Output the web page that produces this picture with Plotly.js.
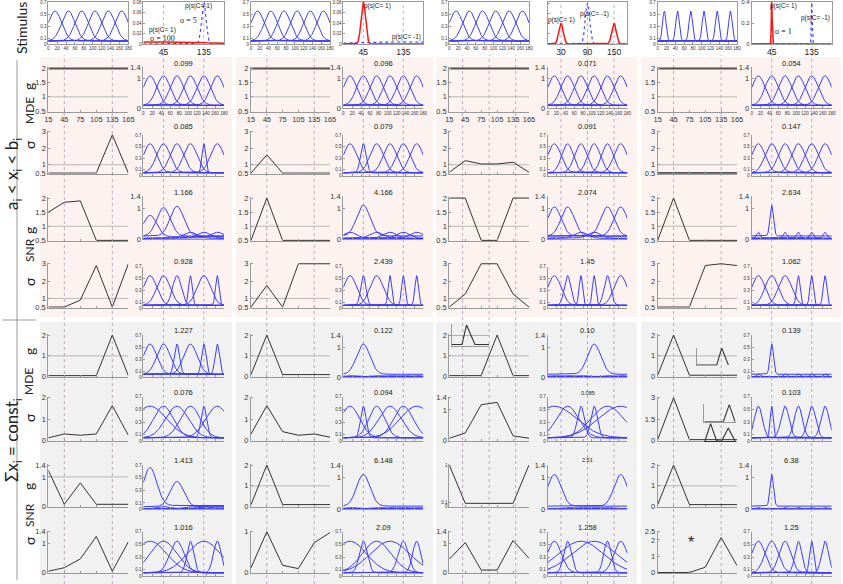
<!DOCTYPE html>
<html><head><meta charset="utf-8">
<script src="https://cdn.plot.ly/plotly-3.0.1.min.js"></script>
<style>html,body{margin:0;padding:0;background:#fff}#chart{width:843px;height:584px}</style>
</head><body><div id="chart"></div>
<script>
// ---------------- DATA ----------------
const neuronPrefs = [15, 45, 75, 105, 135, 165];
const leftTickVals = [15, 45, 75, 105, 135, 165];
const curveTickVals = [0, 20, 40, 60, 80, 100, 120, 140, 160, 180];

// stimulus row
const stimCurveGain = [[1,1,1,1,1,1],[1,1,1,1,1,1],[1,1,1,1,1,1],[1,1,1,1,1,1]];
const stimCurveWidth = [[0.5,0.5,0.5,0.5,0.5,0.5],[0.5,0.5,0.5,0.5,0.5,0.5],[0.5,0.5,0.5,0.5,0.5,0.5],[3,3,3,3,3,3]];
const stimMeanC1 = [[45],[45],[30,150],[45]];
const stimMeanC2 = [[135],[135],[90],[135]];
const stimSigmaC1 = [100, 5, 5, 1];
const stimSigmaC2 = [5, 100, 5, 1];
const stimTicks = [[45,135],[45,135],[30,90,150],[45,135]];
const stimYMax = [0.08, 0.08, 0.082, 0.4];

// left panels: parameter values of the 6 neurons (4 column groups each)
const mdeGainBox  = [[2,2,2,2,2,2],[2,2,2,2,2,2],[2,2,2,2,2,2],[2,2,2,2,2,2]];
const mdeWidthBox = [[0.5,0.5,0.5,0.5,2.8,0.5],[0.5,1.6,0.5,0.5,0.5,0.5],[0.55,1.25,1.05,1.05,1.15,0.55],[0.5,0.5,0.5,0.5,0.5,0.5]];
const snrGainBox  = [[1.5,1.85,1.9,0.5,0.5,0.5],[0.5,2,0.5,0.5,0.5,0.5],[2,2,0.5,0.5,2,2],[0.5,2,0.5,0.5,0.5,0.5]];
const snrWidthBox = [[0.5,0.5,0.9,2.9,0.5,3.0],[0.5,1.75,0.5,3,3,3],[0.5,1.25,3,3,1.25,0.5],[0.5,0.5,0.5,2.9,3.0,2.9]];
const mdeGainSum  = [[0.05,0.05,0.05,0.05,2,0.05],[0.1,2,0.1,0.1,0.1,0.1],[0.05,0.05,0.05,2,0.05,0.05],[0.07,2,0.07,0.07,0.07,0.07]];
const mdeWidthSum = [[0.12,0.3,0.24,0.3,1.63,0.24],[0.3,1.63,0.41,0.24,0.3,0.15],[0.07,0.24,1.17,1.25,0.15,0.07],[0.05,3,0.05,0.05,0.05,0.05]];
const snrGainSum  = [[1.22,0.08,0.8,0.08,0.08,0.08],[0.1,2,0.1,0.1,0.1,0.1],[1,0.08,0.08,0.08,0.08,1],[0.1,2,0.1,0.1,0.1,0.1]];
const snrWidthSum = [[0.05,0.17,0.47,1.24,0.05,1.05],[0.12,1,0.18,0.1,0.73,0.98],[0.46,1.03,0.09,0.09,1.1,0.49],[0.01,0.01,0.01,0.33,2.14,0.43]];

// right panels: gain and width of the 6 tuning curves
const curveGainR1 = [[2,2,2,2,2,2],[2,2,2,2,2,2],[2,2,2,2,2,2],[2,2,2,2,2,2]];
const curveWidthR1 = [[0.5,0.5,0.5,0.5,0.5,0.5],[0.5,0.5,0.5,0.5,0.5,0.5],[0.5,0.5,0.5,0.5,0.5,0.5],[0.5,0.5,0.5,0.5,0.5,0.5]];
const curveGainR2 = [[1,1,1,1,1,1],[1,1,1,1,1,1],[1,1,1,1,1,1],[1,1,1,1,1,1]];
const curveWidthR2 = [[0.5,0.5,0.5,0.5,2.8,0.5],[0.5,1.6,0.5,0.5,0.5,0.5],[0.5,0.6,0.55,0.55,0.6,0.5],[0.5,0.5,0.5,0.5,0.5,0.5]];
const curveGainR3 = [[1.4,1.86,1.94,0.4,0.4,0.4],[0.4,2,0.4,0.4,0.4,0.4],[1.9,1.9,0.4,0.4,1.9,1.9],[0.4,2,0.4,0.4,0.4,0.4]];
const curveWidthR3 = [[0.5,0.5,0.5,0.5,0.5,0.5],[0.5,0.5,0.5,0.5,0.5,0.5],[0.5,0.5,0.5,0.5,0.5,0.5],[3,3,3,3,3,3]];
const curveGainR4 = [[1,1,1,1,1,1],[1,1,1,1,1,1],[1,1,1,1,1,1],[1,1,1,1,1,1]];
const curveWidthR4 = [[0.5,0.5,0.9,2.9,0.5,3.0],[0.5,1.75,0.5,3,3,3],[0.5,1.25,3,3,1.25,0.5],[0.5,0.5,0.5,2.9,3.0,2.9]];
const curveGainR5 = [[1,1,1,1,1,1],[0.1,2,0.1,0.1,0.1,0.1],[0.1,0.1,0.1,2,0.1,0.1],[0.1,1,0.1,0.1,0.1,0.1]];
const curveWidthR5 = [[0.5,0.5,1.8,0.5,2.2,2.2],[0.5,0.5,0.5,0.5,0.5,0.5],[0.5,0.5,0.5,0.5,0.5,0.5],[3,3,3,3,3,3]];
const curveGainR6 = [[1,1,1,1,1,1],[1,1,1,1,1,1],[1,1,1,1,1,1],[1,1,1,1,1,1]];
const curveWidthR6 = [[0.15,0.3,0.25,0.3,1.6,0.25],[0.3,1.6,0.4,0.25,0.3,0.15],[0.1,0.25,1.15,1.25,0.15,0.1],[1,3.5,1,1,1,1]];
const curveGainR7 = [[1.2,0.08,0.8,0.08,0.08,0.08],[0.1,2,0.1,0.1,0.1,0.1],[2,0.1,0.1,0.1,0.1,2],[0.1,2,0.1,0.1,0.1,0.1]];
const curveWidthR7 = [[0.5,0.5,0.5,0.5,0.5,0.5],[0.5,0.5,0.5,0.5,0.5,0.5],[0.5,0.5,0.5,0.5,0.5,0.5],[3,3,3,3,3,3]];
const curveGainR8 = [[1,1,1,1,1,1],[1,1,1,1,1,1],[1,1,1,1,1,1],[1,1,1,1,1,1]];
const curveWidthR8 = [[0.15,0.2,0.47,1.24,0.15,1.05],[0.15,1,0.18,0.12,0.73,0.98],[0.46,1.03,0.1,0.1,1.1,0.49],[0.5,0.5,0.6,1.2,2.5,1.2]];

// numbers printed above the tuning-curve panels
const fisherTitles = [
  ["0.099","0.096","0.071","0.054"],
  ["0.085","0.079","0.091","0.147"],
  ["1.166","4.166","2.074","2.634"],
  ["0.928","2.439","1.45","1.062"],
  ["1.227","0.122","0.10","0.139"],
  ["0.076","0.094","0.085","0.103"],
  ["1.413","6.148","2.51","6.38"],
  ["1.016","2.09","1.258","1.25"]];

// inset sketches
const insetA_x = [0,10,14.5,23,37], insetA_y = [0.15,0.15,2,0.15,0.15];
const insetB_x = [0,20,25,31.7], insetB_y = [0,0,1,0];
const insetC_x = [0,19,25,30.7], insetC_y = [0,0,1,0];
const insetD_x = [0.7,6.3,12.3,17.3,24,30.7], insetD_y = [0,1,0,0,0.75,0];

// stimulus positions marked by dashed lines
const leftMarks = [[45,135],[45,135],[40,90,140],[45,135]];
const rightMarks = [[45,135],[45,135],[30,90,150],[45,135]];

// ---------------- AXIS CONFIG ----------------
const leftRange = [
 [[0.5,2],[0.5,2],[0.5,2],[0.5,2]],
 [[0.5,3],[0.5,3],[0.5,3],[0.5,3]],
 [[0.5,2],[0.5,2],[0.5,2],[0.5,2]],
 [[0.5,3],[0.5,3],[0.5,3],[0.5,3]],
 [[0,2],[0,2],[0,2],[0,2]],
 [[0,2],[0,2],[0,1.4],[0,3]],
 [[0,1.4],[0,2],[0,1],[0,2]],
 [[0,1.4],[0,1],[0,1.4],[0,2.5]]];
const leftTicks = [
 [[0.5,1,1.5,2],[0.5,1,1.5,2],[0.5,1,1.5,2],[0.5,1,1.5,2]],
 [[0.5,1,2,3],[0.5,1,2,3],[0.5,1,2,3],[0.5,1,2,3]],
 [[0.5,1,1.5,2],[0.5,1,1.5,2],[0.5,1,1.5,2],[0.5,1,1.5,2]],
 [[0.5,1,2,3],[0.5,1,2,3],[0.5,1,2,3],[0.5,1,2,3]],
 [[0,1,2],[0,1,2],[0,1,2],[0,1,2]],
 [[0,1,2],[0,1,2],[0,1,1.4],[0,1.5,3]],
 [[0,1,1.4],[0,1,2],[0,0.1,1],[0,1,2]],
 [[0,1,1.4],[0,1],[0,1,1.4],[0,1,2,2.5]]];
const refLineOn = [[1,1,1,1],[1,1,1,1],[1,1,1,1],[1,1,1,1],[1,1,1,1],[0,0,0,0],[1,1,0,1],[0,0,0,0]];
const rightTop = [[1.4,1.4,1.4,1.4],[0.7,0.7,0.7,0.7],[1.4,1.4,1.4,1.4],[0.7,0.7,0.7,0.7],
                  [0.7,1.4,1.4,0.7],[0.7,0.7,0.7,0.7],[0.7,1.4,1.4,1.4],[0.7,0.7,0.7,0.7]];

const leftVals = [mdeGainBox, mdeWidthBox, snrGainBox, snrWidthBox, mdeGainSum, mdeWidthSum, snrGainSum, snrWidthSum];
const curveGains = [curveGainR1,curveGainR2,curveGainR3,curveGainR4,curveGainR5,curveGainR6,curveGainR7,curveGainR8];
const curveWidths = [curveWidthR1,curveWidthR2,curveWidthR3,curveWidthR4,curveWidthR5,curveWidthR6,curveWidthR7,curveWidthR8];

// ---------------- GEOMETRY (pixels) ----------------
const W = 843, H = 584;
const leftCols = [[48.3,128.3],[251,330],[449.3,529],[657.7,737]];
const rightCols = [[143.3,224],[343.3,423.3],[547.7,627.3],[751.7,831.7]];
const leftRows = [[67.3,111.7],[130.5,173.7],[197,241],[262.7,307.7],[334,377.3],[396.7,441],[464,507.3],[530.7,573.3]];
const rightRows = [[67,108.3],[135,175.7],[196,239],[266.7,308.3],[335,377.3],[396.7,441],[465,509.3],[531.7,576]];
const titleY = [63.5, 126.5, 192.5, 261, 330, 392.5, 460, 527.3];
const stimRow = [2,44];

const FONT = 'Liberation Sans, Arial, sans-serif';
const BLUE = 'rgb(60,60,250)';
const data = [];
const layout = {
  width: W, height: H, margin: {l:0,r:0,t:0,b:0}, showlegend: false,
  paper_bgcolor: '#ffffff', plot_bgcolor: 'rgba(0,0,0,0)', hovermode: false,
  font: {family: FONT, size: 7, color: '#222'},
  shapes: [], annotations: []
};

let axCount = 0;
function newAxes(xpx, ypx, xo, yo) {
  axCount++;
  const s = axCount === 1 ? '' : String(axCount);
  const base = {showgrid:false, zeroline:false, showline:true, linecolor:'#9a9a9a', linewidth:1,
                ticks:'inside', ticklen:2, tickcolor:'#9a9a9a', fixedrange:true, tickangle:0,
                automargin:false, tickfont:{family:FONT, size:7, color:'#333'}};
  layout['xaxis'+s] = Object.assign({}, base, {domain:[xpx[0]/W, xpx[1]/W], anchor:'y'+s}, xo);
  layout['yaxis'+s] = Object.assign({}, base, {domain:[1-ypx[1]/H, 1-ypx[0]/H], anchor:'x'+s}, yo);
  return {x:'x'+s, y:'y'+s};
}

// tuning curve: g * (baseline + amplitude * bell), width shrinks with the sigma parameter
function tuning(g, s, c) {
  const w = 15 * Math.pow(0.5 / s, 0.75);
  const xs = [], ys = [];
  for (let x = 0; x <= 180; x += 0.5) {
    xs.push(x);
    ys.push(g * (0.05 + 0.5 * Math.exp(-(x - c) * (x - c) / (2 * w * w))));
  }
  return {xs, ys};
}
function density(means, sd) {
  const xs = [], ys = [];
  for (let x = 0; x <= 180; x += 0.25) {
    let v = 0;
    means.forEach(m => { v += Math.exp(-(x-m)*(x-m)/(2*sd*sd)) / (sd*Math.sqrt(2*Math.PI)); });
    xs.push(x); ys.push(v / means.length);
  }
  return {xs, ys};
}
function addCurves(a, gains, widths) {
  neuronPrefs.forEach((c, i) => {
    const t = tuning(gains[i], widths[i], c);
    data.push({type:'scatter', mode:'lines', x:t.xs, y:t.ys, xaxis:a.x, yaxis:a.y,
               line:{color:BLUE, width:1}});
  });
}
function ann(text, xp, yp, opts) {
  layout.annotations.push(Object.assign({text, x:xp/W, y:1-yp/H, xref:'paper', yref:'paper',
    xanchor:'center', yanchor:'middle', showarrow:false,
    font:{family:FONT, size:7, color:'#222'}}, opts));
}

// ---------------- BACKGROUND BLOCKS ----------------
const blockX = [[40,232],[236,433],[436,637],[641,841]];
blockX.forEach(b => {
  layout.shapes.push({type:'rect', xref:'paper', yref:'paper', x0:b[0]/W, x1:b[1]/W, y0:1-317/H, y1:1-57/H,
    fillcolor:'rgb(252,243,241)', line:{width:0}, layer:'below'});
  layout.shapes.push({type:'rect', xref:'paper', yref:'paper', x0:b[0]/W, x1:b[1]/W, y0:0, y1:1-322/H,
    fillcolor:'rgb(241,241,241)', line:{width:0}, layer:'below'});
});
layout.shapes.push({type:'line', xref:'paper', yref:'paper', x0:17/W, x1:17/W, y0:1-60/H, y1:1-580/H, line:{color:'#999', width:1}});
layout.shapes.push({type:'line', xref:'paper', yref:'paper', x0:2/W, x1:36/W, y0:1-320/H, y1:1-320/H, line:{color:'#999', width:1}});

// ---------------- STIMULUS ROW ----------------
const leftAxRefs = [], rightAxRefs = [];
for (let gI = 0; gI < 4; gI++) {
  const a = newAxes(leftCols[gI], stimRow,
    {range:[0,180], tickvals:curveTickVals, tickfont:{family:FONT,size:4.5,color:'#333'}, mirror:true},
    {range:[0,0.7], tickvals:[0,0.1,0.3,0.5,0.7], tickfont:{family:FONT,size:4.5,color:'#333'}, mirror:true});
  addCurves(a, stimCurveGain[gI], stimCurveWidth[gI]);
  const yt = gI === 3 ? [0,0.2,0.4] : [0,0.02,0.04,0.06,0.08];
  const b = newAxes(rightCols[gI], stimRow,
    {range:[0,180], tickvals:stimTicks[gI], ticks:'', tickfont:{family:FONT,size:8.5,color:'#222'}, mirror:true},
    {range:[0,stimYMax[gI]], tickvals:yt, showticklabels:gI!==2, tickfont:{family:FONT,size:gI===3?6:4.5,color:'#333'}, mirror:true});
  rightAxRefs.push(b.x);
  const d1 = density(stimMeanC1[gI], stimSigmaC1[gI]);
  const d2 = density(stimMeanC2[gI], stimSigmaC2[gI]);
  data.push({type:'scatter', mode:'lines', x:d2.xs, y:d2.ys, xaxis:b.x, yaxis:b.y, line:{color:'rgb(70,70,255)', width:1.2, dash:'dot'}});
  data.push({type:'scatter', mode:'lines', x:d1.xs, y:d1.ys, xaxis:b.x, yaxis:b.y, line:{color:'rgb(255,20,20)', width:1.5}});
}
// stimulus labels
const sf = {family:FONT, size:6.5, color:'#222'};
const sfs = {family:'Liberation Serif, Times New Roman, serif', size:8, color:'#222'};
ann('p(s|C=-1)', 198, 6, {font:sf});
ann('σ = 5', 188, 20.5, {font:sfs});
ann('p(s|C= 1)', 162, 30, {font:sf});
ann('σ = 100', 162, 38, {font:sfs});
ann('p(s|C= 1)', 377, 6, {font:sf});
ann('p(s|C= -1)', 406, 36.5, {font:sf});
ann('p(s|C= 1)', 561, 19.5, {font:sf});
ann('p(s|C= -1)', 594, 13.5, {font:sf});
ann('p(s|C= 1)', 783, 6, {font:sf});
ann('p(s|C= -1)', 815, 17.5, {font:sf});
ann('σ = 1', 783, 31, {font:sfs});

// ---------------- MAIN GRID ----------------
for (let r = 0; r < 8; r++) {
  for (let gI = 0; gI < 4; gI++) {
    const lr = leftRange[r][gI];
    const span = lr[1] - lr[0];
    const tight = (r === 6 && gI === 2);
    const a = newAxes(leftCols[gI], leftRows[r],
      {range:[15,165], tickvals:leftTickVals, showticklabels:r===0, tickfont:{family:FONT,size:7.5,color:'#333'}},
      {range:[lr[0]-0.015*span, lr[1]+0.025*span], tickvals:leftTicks[r][gI], tickfont:{family:FONT,size:tight?4.5:7.5,color:'#333'}});
    if (r === 0) leftAxRefs.push(a.x);
    if (refLineOn[r][gI]) {
      data.push({type:'scatter', mode:'lines', x:[15,165], y:[1,1], xaxis:a.x, yaxis:a.y, line:{color:'#b8b8b8', width:1}});
    }
    const vals = leftVals[r][gI];
    const flat = vals.every(v => v === vals[0]);
    data.push({type:'scatter', mode:'lines', x:neuronPrefs, y:vals, xaxis:a.x, yaxis:a.y,
      line:{color: flat ? '#555' : '#333', width: flat ? 2.2 : 1}});

    const top = rightTop[r][gI];
    const b = newAxes(rightCols[gI], rightRows[r],
      {range:[0,180], tickvals:curveTickVals, showticklabels:r===0, tickfont:{family:FONT,size:4.5,color:'#333'}},
      {range:[0, top], tickvals: top > 1 ? [0,1,1.4] : [0,0.1,0.3,0.5,0.7],
       tickfont:{family:FONT, size: top > 1 ? 7.5 : 4.5, color:'#333'}});
    addCurves(b, curveGains[r][gI], curveWidths[r][gI]);
    const small = (r === 5 && gI === 2) || (r === 6 && gI === 2);
    ann(fisherTitles[r][gI], (rightCols[gI][0]+rightCols[gI][1])/2, titleY[r], {font:{family:FONT, size: small ? 5.5 : 7.5, color:'#222'}});
  }
}

// ---------------- INSETS ----------------
function inset(xpx, ypx, xr, yr, xs, ys, opts) {
  const a = newAxes(xpx, ypx,
    Object.assign({range:xr, showticklabels:false, ticks:''}, opts.x || {}),
    Object.assign({range:yr, showticklabels:false, ticks:''}, opts.y || {}));
  (opts.extra || []).forEach(e => data.push(Object.assign({type:'scatter', mode:'lines', xaxis:a.x, yaxis:a.y}, e)));
  data.push({type:'scatter', mode:'lines', x:xs, y:ys, xaxis:a.x, yaxis:a.y, line:{color:'#333', width:1.1}});
}
inset([452,489],[324,346],[0,37],[0,2.1], insetA_x, insetA_y,
  {extra:[{x:[0,37], y:[1,1], line:{color:'#b0b0b0', width:1}}]});
inset([696.7,736.7],[347.7,365.5],[0,40],[-0.02,1.02], insetB_x, insetB_y, {x:{showline:false}});
inset([704.3,736],[404.3,421.7],[0,31.7],[0,1.02], insetC_x, insetC_y, {});
inset([704.3,736],[423.3,441],[0,31.7],[0,1.02], insetD_x, insetD_y, {x:{linecolor:'#333'}, y:{showline:false}});

// ---------------- DASHED STIMULUS MARKERS ----------------
for (let gI = 0; gI < 4; gI++) {
  leftMarks[gI].forEach(v => layout.shapes.push({type:'line', xref:leftAxRefs[gI], yref:'paper', x0:v, x1:v,
    y0:0, y1:1-55/H, line:{color:'rgba(170,120,175,0.65)', width:1, dash:'dot'}, layer:'below'}));
  rightMarks[gI].forEach(v => layout.shapes.push({type:'line', xref:rightAxRefs[gI], yref:'paper', x0:v, x1:v,
    y0:0, y1:1-2/H, line:{color:'rgba(170,120,175,0.65)', width:1, dash:'dot'}, layer:'below'}));
}

// ---------------- ROW LABELS ----------------
const LF = 'Lato, Open Sans, sans-serif';
ann('Stimulus', 22, 28, {textangle:-90, font:{family:LF, size:14, color:'#222'}});
ann('a<sub>i</sub> &lt; x<sub>i</sub> &lt; b<sub>i</sub>', 13, 174, {textangle:-90, font:{family:LF, size:17, color:'#222'}});
ann('Σx<sub>i</sub> = const<sub>i</sub>', 13, 440, {textangle:-90, font:{family:LF, size:17, color:'#222'}});
const rowLab = [['g',87],['MDE',111],['σ',145],['g',231],['SNR',250],['σ',282],
                ['g',352],['MDE',382],['σ',418],['g',487],['SNR',515],['σ',541]];
rowLab.forEach(l => ann(l[0], 29, l[1], {textangle:-90, font:{family:LF, size: l[0].length > 1 ? 12 : 14, color:'#222'}}));
ann('*', 690.7, 542, {font:{family:FONT, size:16, color:'#222'}});

Plotly.newPlot('chart', data, layout, {staticPlot:true, displayModeBar:false});
</script>
</body></html>
